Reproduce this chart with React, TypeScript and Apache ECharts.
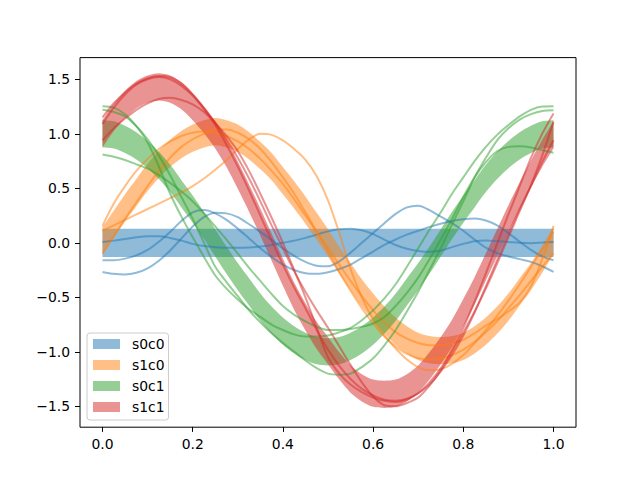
import React, { useEffect, useRef } from "react";
import * as echarts from "echarts";

const xs = [
  0, 0.025, 0.05, 0.075, 0.1, 0.125, 0.15, 0.175, 0.2, 0.225, 0.25, 0.275, 0.3, 0.325, 0.35, 0.375, 0.4, 0.425, 0.45, 0.475, 0.5,
  0.525, 0.55, 0.575, 0.6, 0.625, 0.65, 0.675, 0.7, 0.725, 0.75, 0.775, 0.8, 0.825, 0.85, 0.875, 0.9, 0.925, 0.95, 0.975, 1.0,
];
const yTicks = [-1.5, -1.0, -0.5, 0.0, 0.5, 1.0, 1.5];
const legendNames = ["s0c0", "s1c0", "s0c1", "s1c1"];

// band centres and half-widths
const s0c0Mid = [0, 0, 0, 0, 0, 0, 0, 0, 0, 0, 0, 0, 0, 0, 0, 0, 0, 0, 0, 0, 0, 0, 0, 0, 0, 0, 0, 0, 0, 0, 0, 0, 0, 0, 0, 0, 0, 0, 0, 0, 0];
const s1c0Mid = [
  0.02, 0.17, 0.32, 0.46, 0.6, 0.72, 0.82, 0.9, 0.96, 1.0, 1.02, 1.0, 0.96, 0.89, 0.8, 0.7, 0.57, 0.44, 0.3, 0.15, 0.0,
  -0.16, -0.31, -0.46, -0.59, -0.71, -0.81, -0.89, -0.95, -0.98, -0.99, -0.98, -0.95, -0.89, -0.81, -0.71, -0.59, -0.45, -0.31, -0.15, 0.02,
];
const s0c1Mid = [
  1.0, 0.99, 0.95, 0.89, 0.81, 0.71, 0.59, 0.45, 0.31, 0.16, 0.0, -0.16, -0.31, -0.45, -0.59, -0.71, -0.81, -0.89, -0.95, -0.99, -1.0,
  -0.99, -0.95, -0.89, -0.81, -0.71, -0.59, -0.45, -0.31, -0.16, 0.0, 0.16, 0.31, 0.45, 0.59, 0.71, 0.81, 0.89, 0.95, 0.99, 1.0,
];
const s1c1Mid = [
  1.0, 1.15, 1.27, 1.36, 1.41, 1.43, 1.41, 1.35, 1.25, 1.13, 0.99, 0.82, 0.62, 0.41, 0.19, -0.04, -0.27, -0.49, -0.68, -0.85, -0.99,
  -1.13, -1.25, -1.33, -1.38, -1.39, -1.38, -1.33, -1.25, -1.13, -0.99, -0.83, -0.64, -0.44, -0.22, 0.0, 0.22, 0.43, 0.63, 0.82, 0.99,
];
const bandHalfWidths = [0.13, 0.125, 0.125, 0.125];

// sample lines
const s0c0Line1 = [
  0.008, 0.02, 0.035, 0.05, 0.06, 0.06, 0.045, 0.02, -0.01, -0.03, -0.04, -0.045, -0.045, -0.043, -0.035, -0.02, 0.0, 0.02, 0.045, 0.075, 0.105,
  0.125, 0.13, 0.115, 0.08, 0.03, -0.02, -0.055, -0.075, -0.083, -0.07, -0.04, -0.01, 0.015, 0.022, 0.015, 0.008, 0.0, -0.003, 0.002, 0.008,
];
const s0c0Line2 = [
  -0.16, -0.16, -0.145, -0.115, -0.065, 0.01, 0.1, 0.2, 0.28, 0.3, 0.27, 0.21, 0.13, 0.04, -0.05, -0.13, -0.2, -0.25, -0.28, -0.285, -0.27,
  -0.24, -0.2, -0.14, -0.08, -0.02, 0.03, 0.075, 0.11, 0.145, 0.175, 0.2, 0.215, 0.222, 0.205, 0.16, 0.09, 0.01, -0.065, -0.125, -0.16,
];
const s0c0Line3 = [
  -0.267, -0.285, -0.29, -0.275, -0.235, -0.165, -0.07, 0.04, 0.15, 0.235, 0.275, 0.27, 0.235, 0.17, 0.1, 0.025, -0.05, -0.12, -0.175, -0.21, -0.215,
  -0.17, -0.09, 0.0, 0.09, 0.18, 0.265, 0.325, 0.34, 0.3, 0.24, 0.18, 0.11, 0.03, -0.045, -0.095, -0.125, -0.15, -0.175, -0.215, -0.267,
];

const s1c0Line1 = [
  0.11, 0.16, 0.21, 0.26, 0.31, 0.36, 0.41, 0.46, 0.52, 0.59, 0.67, 0.76, 0.86, 0.95, 1.0, 0.99, 0.94, 0.86, 0.76, 0.61, 0.39,
  0.09, -0.24, -0.5, -0.7, -0.85, -0.97, -1.07, -1.14, -1.17, -1.16, -1.11, -1.03, -0.92, -0.8, -0.67, -0.53, -0.38, -0.22, -0.06, 0.1,
];
const s1c0Line2 = [
  0.155, 0.36, 0.52, 0.66, 0.77, 0.86, 0.93, 0.98, 1.01, 1.02, 1.01, 0.98, 0.93, 0.86, 0.77, 0.66, 0.54, 0.4, 0.25, 0.1, -0.05,
  -0.2, -0.35, -0.49, -0.62, -0.73, -0.82, -0.88, -0.92, -0.94, -0.94, -0.92, -0.89, -0.83, -0.76, -0.7, -0.63, -0.55, -0.4, -0.15, 0.155,
];
const s1c0Line3 = [
  -0.1, 0.06, 0.22, 0.37, 0.52, 0.66, 0.78, 0.88, 0.95, 1.0, 1.04, 1.04, 1.01, 0.95, 0.86, 0.74, 0.6, 0.45, 0.28, 0.1, -0.08,
  -0.27, -0.44, -0.6, -0.74, -0.86, -0.95, -1.02, -1.06, -1.07, -1.06, -1.03, -0.98, -0.91, -0.82, -0.72, -0.6, -0.48, -0.35, -0.22, -0.1,
];

const s0c1Line1 = [
  1.253, 1.24, 1.18, 1.07, 0.92, 0.7, 0.45, 0.24, 0.05, -0.13, -0.3, -0.42, -0.52, -0.61, -0.68, -0.75, -0.8, -0.84, -0.86, -0.86, -0.85,
  -0.82, -0.78, -0.71, -0.62, -0.51, -0.38, -0.22, -0.05, 0.12, 0.28, 0.45, 0.6, 0.75, 0.88, 0.99, 1.08, 1.16, 1.22, 1.25, 1.253,
];
const s0c1Line2 = [
  1.22, 1.2, 1.16, 1.07, 0.95, 0.8, 0.62, 0.42, 0.22, 0.0, -0.22, -0.36, -0.49, -0.62, -0.73, -0.83, -0.92, -1.0, -1.08, -1.15, -1.2,
  -1.21, -1.2, -1.14, -1.06, -0.94, -0.8, -0.63, -0.45, -0.25, -0.05, 0.17, 0.38, 0.6, 0.78, 0.94, 1.05, 1.13, 1.18, 1.21, 1.217,
];
const s0c1Line3 = [
  0.81, 0.79, 0.76, 0.72, 0.68, 0.62, 0.55, 0.47, 0.38, 0.27, 0.15, 0.03, -0.1, -0.23, -0.35, -0.47, -0.58, -0.66, -0.72, -0.77, -0.8,
  -0.8, -0.79, -0.77, -0.74, -0.68, -0.58, -0.46, -0.32, -0.15, 0.03, 0.22, 0.42, 0.6, 0.74, 0.84, 0.88, 0.885, 0.875, 0.85, 0.826,
];

const s1c1Line1 = [
  1.15, 1.28, 1.38, 1.46, 1.51, 1.53, 1.52, 1.46, 1.36, 1.23, 1.08, 0.9, 0.7, 0.48, 0.25, 0.02, -0.2, -0.41, -0.6, -0.8, -0.98,
  -1.13, -1.25, -1.34, -1.4, -1.44, -1.45, -1.43, -1.38, -1.28, -1.15, -0.98, -0.78, -0.54, -0.28, -0.01, 0.26, 0.52, 0.78, 1.0, 1.186,
];
const s1c1Line2 = [
  1.09, 1.24, 1.36, 1.45, 1.5, 1.52, 1.5, 1.44, 1.35, 1.23, 1.1, 0.95, 0.78, 0.59, 0.38, 0.16, -0.05, -0.26, -0.45, -0.62, -0.78,
  -0.95, -1.12, -1.28, -1.41, -1.49, -1.5, -1.47, -1.42, -1.31, -1.17, -1.0, -0.82, -0.63, -0.42, -0.19, 0.05, 0.29, 0.53, 0.8, 1.11,
];
const s1c1Line3 = [
  0.94, 1.05, 1.14, 1.22, 1.28, 1.32, 1.33, 1.31, 1.27, 1.2, 1.1, 0.98, 0.84, 0.66, 0.45, 0.23, 0.0, -0.25, -0.5, -0.78, -1.05,
  -1.2, -1.3, -1.37, -1.42, -1.45, -1.46, -1.44, -1.38, -1.3, -1.18, -1.03, -0.85, -0.64, -0.4, -0.16, 0.08, 0.31, 0.52, 0.74, 0.94,
];

const COLORS = ["#1f77b4", "#ff7f0e", "#2ca02c", "#d62728"];
const BAND_COLORS = ["rgba(31,119,180,0.5)", "rgba(255,127,14,0.5)", "rgba(44,160,44,0.5)", "rgba(214,39,40,0.5)"];

const bandMids = [s0c0Mid, s1c0Mid, s0c1Mid, s1c1Mid];
const lines = [
  [s0c0Line1, s0c0Line2, s0c0Line3],
  [s1c0Line1, s1c0Line2, s1c0Line3],
  [s0c1Line1, s0c1Line2, s0c1Line3],
  [s1c1Line1, s1c1Line2, s1c1Line3],
];

const FONT = "DejaVu Sans";
const SMOOTH = 0.3;

function buildOption() {
  const series: any[] = [];
  bandMids.forEach((mid, g) => {
    const name = legendNames[g];
    const hw = bandHalfWidths[g];
    const lo = mid.map((m) => +(m - hw).toFixed(4));
    series.push({
      name: name + "_base",
      type: "line",
      data: lo,
      stack: "band" + g,
      stackStrategy: "all",
      smooth: SMOOTH,
      symbol: "none",
      lineStyle: { width: 0, opacity: 0 },
      silent: true,
      clip: false,
      z: 1,
    });
    series.push({
      name,
      type: "line",
      data: mid.map(() => +(2 * hw).toFixed(4)),
      stack: "band" + g,
      stackStrategy: "all",
      smooth: SMOOTH,
      symbol: "none",
      lineStyle: { width: 0, opacity: 0 },
      areaStyle: { color: BAND_COLORS[g], opacity: 1 },
      itemStyle: { color: BAND_COLORS[g] },
      silent: true,
      clip: false,
      z: 1,
    });
  });
  lines.forEach((group, g) => {
    group.forEach((ys, k) => {
      series.push({
        name: legendNames[g] + "_line" + k,
        type: "line",
        data: ys,
        smooth: SMOOTH,
        symbol: "none",
        lineStyle: { color: COLORS[g], width: 2, opacity: 0.5 },
        silent: true,
        clip: false,
        z: 2,
      });
    });
  });

  return {
    animation: false,
    grid: { left: 102.5, right: 86.5, top: 79.3, bottom: 73.7, containLabel: false },
    xAxis: {
      type: "category",
      data: xs.map(String),
      boundaryGap: false,
      offset: 20.6,
      axisLine: { show: false, onZero: false },
      axisTick: { show: true, interval: 7, length: 5, lineStyle: { color: "#000", width: 1 } },
      axisLabel: {
        interval: 7,
        margin: 10,
        color: "#000",
        fontFamily: FONT,
        fontSize: 13.9,
        formatter: (v: string) => Number(v).toFixed(1),
      },
      splitLine: { show: false },
    },
    yAxis: {
      type: "value",
      min: yTicks[0],
      max: yTicks[yTicks.length - 1],
      interval: 0.5,
      offset: 22.5,
      axisLine: { show: false, onZero: false },
      axisTick: { show: true, length: 5, lineStyle: { color: "#000", width: 1 } },
      axisLabel: {
        margin: 10,
        color: "#000",
        fontFamily: FONT,
        fontSize: 13.9,
        formatter: (v: number) => (v < 0 ? "\u2212" + Math.abs(v).toFixed(1) : v.toFixed(1)),
      },
      splitLine: { show: false },
    },
    legend: {
      left: 87,
      top: 333,
      orient: "vertical",
      selectedMode: false,
      itemWidth: 27,
      itemHeight: 10,
      itemGap: 7,
      padding: [4, 4, 6, 6],
      backgroundColor: "rgba(255,255,255,0.8)",
      borderColor: "#cccccc",
      borderWidth: 1,
      borderRadius: 3,
      textStyle: { fontFamily: FONT, fontSize: 13.9, color: "#000", padding: [0, 0, 0, 7] },
      data: legendNames.map((n, g) => ({
        name: n,
        icon: "rect",
        itemStyle: { color: BAND_COLORS[g], borderWidth: 0 },
      })),
    },
    graphic: [
      {
        type: "rect",
        silent: true,
        z: 100,
        shape: { x: 80, y: 57.6, width: 496, height: 369.6 },
        style: { fill: "none", stroke: "#000", lineWidth: 1 },
      },
    ],
    series,
  };
}

export default function App() {
  const ref = useRef<HTMLDivElement>(null);
  useEffect(() => {
    if (!ref.current) return;
    const chart = echarts.init(ref.current, undefined, { renderer: "svg" });
    chart.setOption(buildOption() as any);
    return () => chart.dispose();
  }, []);
  return <div ref={ref} style={{ position: "fixed", left: 0, top: 0, width: 640, height: 480, background: "#fff" }} />;
}
